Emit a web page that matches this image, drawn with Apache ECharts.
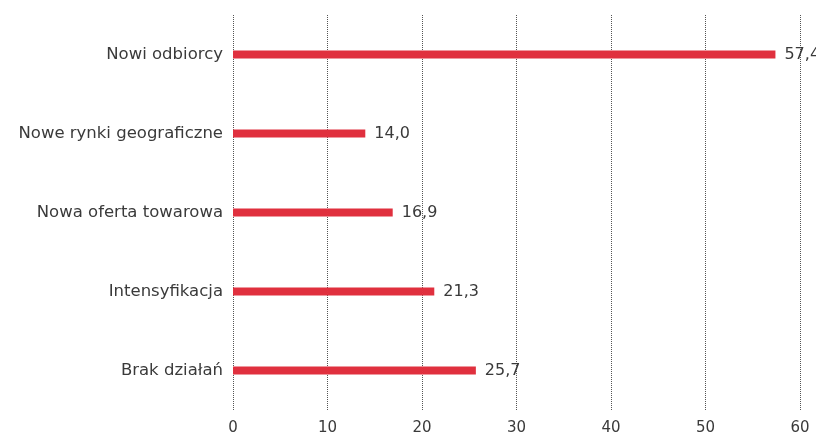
<!DOCTYPE html>
<html><head><meta charset="utf-8">
<script src="https://cdn.jsdelivr.net/npm/echarts@6/dist/echarts.min.js"></script>
<style>html,body{margin:0;padding:0;background:#fff}#c{width:816px;height:436px}</style>
</head><body><div id="c"></div>
<script>
const categories = ['Nowi odbiorcy', 'Nowe rynki geograficzne', 'Nowa oferta towarowa', 'Intensyfikacja', 'Brak działań'];
const values = [57.4, 14.0, 16.9, 21.3, 25.7];
const xTicks = [0, 10, 20, 30, 40, 50, 60];

const FONT = 'DejaVu Sans';
const chart = echarts.init(document.getElementById('c'), null, {renderer: 'canvas'});
chart.setOption({
  animation: false,
  grid: {left: 233, right: 16, top: 15, bottom: 26, containLabel: false, outerBoundsMode: 'none'},
  xAxis: {
    type: 'value', min: xTicks[0], max: xTicks[xTicks.length - 1], interval: 10,
    axisLine: {show: false}, axisTick: {show: false},
    splitLine: {show: true, lineStyle: {type: [1, 1], color: '#555', width: 1}},
    axisLabel: {color: '#3a3a3a', fontSize: 15, fontFamily: FONT, margin: 11}
  },
  yAxis: {
    type: 'category', data: categories, inverse: true,
    axisLine: {show: false}, axisTick: {show: false},
    axisLabel: {color: '#3a3a3a', fontSize: 16.5, fontFamily: FONT, margin: 10}
  },
  series: [{
    type: 'bar', data: values, barWidth: 8,
    itemStyle: {color: '#e0303e'},
    label: {show: true, position: 'right', distance: 9, color: '#3a3a3a', fontSize: 16, fontFamily: FONT,
      formatter: p => p.value.toFixed(1).replace('.', ',')}
  }]
});
</script></body></html>
